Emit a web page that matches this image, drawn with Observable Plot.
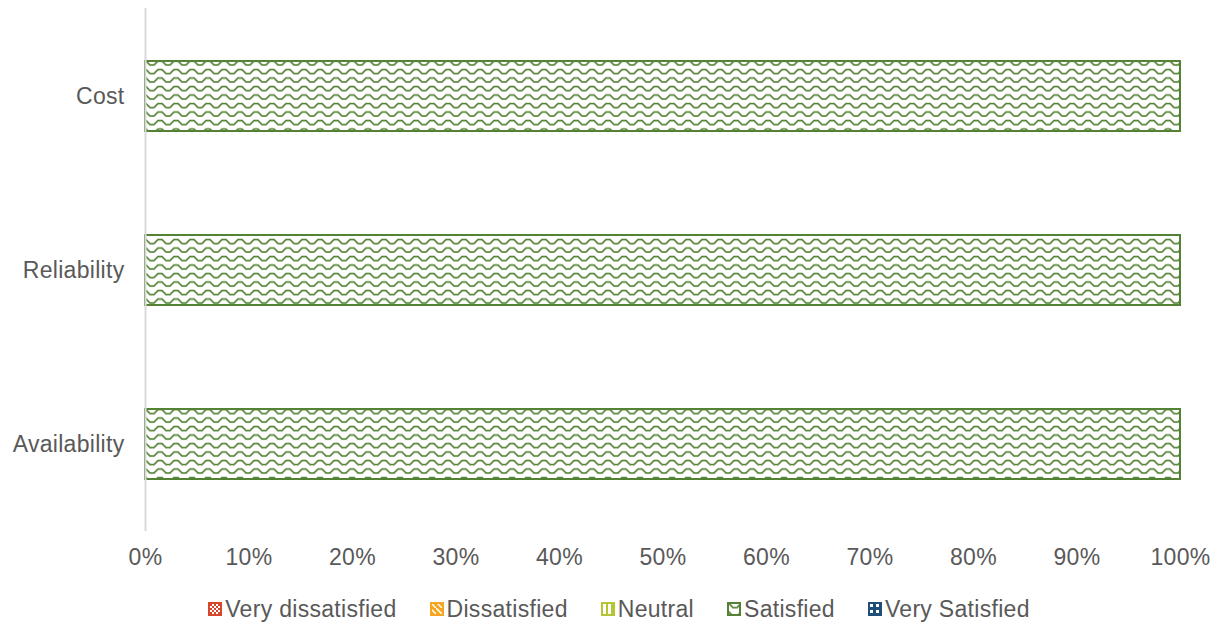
<!DOCTYPE html>
<html>
<head>
<meta charset="utf-8">
<script src="https://cdn.jsdelivr.net/npm/d3@7"></script>
<script src="https://cdn.jsdelivr.net/npm/@observablehq/plot@0.6"></script>
<style>
  html, body { margin: 0; padding: 0; background: #fff; }
  body { width: 1218px; height: 625px; overflow: hidden; font-family: "Liberation Sans", Arial, sans-serif; }
  #legend { display: flex; justify-content: center; align-items: center; gap: 33px; padding-top: 13px; padding-left: 20px;
            font-size: 23px; letter-spacing: 0.3px; color: #595959; line-height: 26px; }
  #legend .item { display: flex; align-items: center; gap: 3px; }
  #legend svg { display: block; }
  #chart text { letter-spacing: 0.3px; }
</style>
</head>
<body>
<div id="chart"></div>
<div id="legend"></div>
<script>
const categories = ["Cost", "Reliability", "Availability"];
const seriesNames = ["Very dissatisfied", "Dissatisfied", "Neutral", "Satisfied", "Very Satisfied"];
const seriesColors = ["#d6472b", "#f5a623", "#b4c534", "#548235", "#1f4e79"];
const veryDissatisfied = [0, 0, 0];
const dissatisfied = [0, 0, 0];
const neutral = [0, 0, 0];
const satisfied = [1, 1, 1];
const verySatisfied = [0, 0, 0];
const xTicks = [0, 0.1, 0.2, 0.3, 0.4, 0.5, 0.6, 0.7, 0.8, 0.9, 1];

const seriesValues = [veryDissatisfied, dissatisfied, neutral, satisfied, verySatisfied];
const patternIds = ["p-vd", "p-d", "p-n", "p-s", "p-vs"];
const rows = [];
categories.forEach((c, i) => {
  seriesNames.forEach((s, j) => {
    rows.push({category: c, series: s, value: seriesValues[j][i], idx: j});
  });
});

const chart = Plot.plot({
  width: 1218,
  height: 583,
  marginLeft: 145,
  marginRight: 38,
  marginTop: 8,
  marginBottom: 52,
  style: {fontFamily: '"Liberation Sans", Arial, sans-serif', fontSize: "23px", color: "#595959", background: "#fff"},
  x: {domain: [0, 1], label: null},
  y: {domain: categories, paddingInner: 0.6, paddingOuter: 0.3, label: null},
  marks: [
    Plot.barX(rows.filter(d => d.value > 0), Plot.stackX({
      x: "value", y: "category", order: seriesNames,
      fill: d => "url(#" + patternIds[d.idx] + ")",
      stroke: d => seriesColors[d.idx],
      strokeWidth: 2
    })),
    Plot.ruleX([0], {stroke: "#d9d9d9", strokeWidth: 2}),
    Plot.axisX({ticks: xTicks, tickFormat: d => Math.round(d * 100) + "%", tickSize: 0, tickPadding: 17, fontSize: 23, fill: "#595959", label: null}),
    Plot.axisY({tickSize: 0, tickPadding: 21, fontSize: 23, fill: "#595959", label: null})
  ]
});

const ns = "http://www.w3.org/2000/svg";
function makeDefs() {
  const defs = document.createElementNS(ns, "defs");
  defs.innerHTML = `
    <pattern id="p-vd" patternUnits="userSpaceOnUse" width="4" height="4">
      <rect width="4" height="4" fill="#fff"/><rect width="2" height="2" fill="#d6472b"/><rect x="2" y="2" width="2" height="2" fill="#d6472b"/>
    </pattern>
    <pattern id="p-d" patternUnits="userSpaceOnUse" width="6" height="6">
      <rect width="6" height="6" fill="#f5a623"/><path d="M0,0 L6,6" stroke="#fff" stroke-width="1.5"/>
    </pattern>
    <pattern id="p-n" patternUnits="userSpaceOnUse" width="5" height="5">
      <rect width="5" height="5" fill="#fff"/><rect width="2" height="5" fill="#b4c534"/>
    </pattern>
    <pattern id="p-s" patternUnits="userSpaceOnUse" width="16" height="8.5" x="0" y="0">
      <rect width="16" height="8.5" fill="#fff"/>
      <path d="M0,1.5 H2 L6,5.5 H10 L14,1.5 H16" fill="none" stroke="#548235" stroke-width="1.7"/>
    </pattern>
    <pattern id="p-vs" patternUnits="userSpaceOnUse" width="6" height="6">
      <rect width="6" height="6" fill="#1f4e79"/><rect x="2" y="2" width="3" height="3" fill="#fff"/>
    </pattern>`;
  return defs;
}
chart.insertBefore(makeDefs(), chart.firstChild);
document.getElementById("chart").appendChild(chart);

// Legend
const legend = document.getElementById("legend");
const legendSvg = document.createElementNS(ns, "svg");
legendSvg.setAttribute("width", 0); legendSvg.setAttribute("height", 0);
legendSvg.style.position = "absolute";
legendSvg.appendChild(makeDefs());
legend.appendChild(legendSvg);
seriesNames.forEach((s, j) => {
  const item = document.createElement("div");
  item.className = "item";
  item.innerHTML = `<svg width="14" height="14"><rect x="1" y="1" width="12" height="12" fill="url(#${patternIds[j]})" stroke="${seriesColors[j]}" stroke-width="2"/></svg><span>${s}</span>`;
  legend.appendChild(item);
});
</script>
</body>
</html>
